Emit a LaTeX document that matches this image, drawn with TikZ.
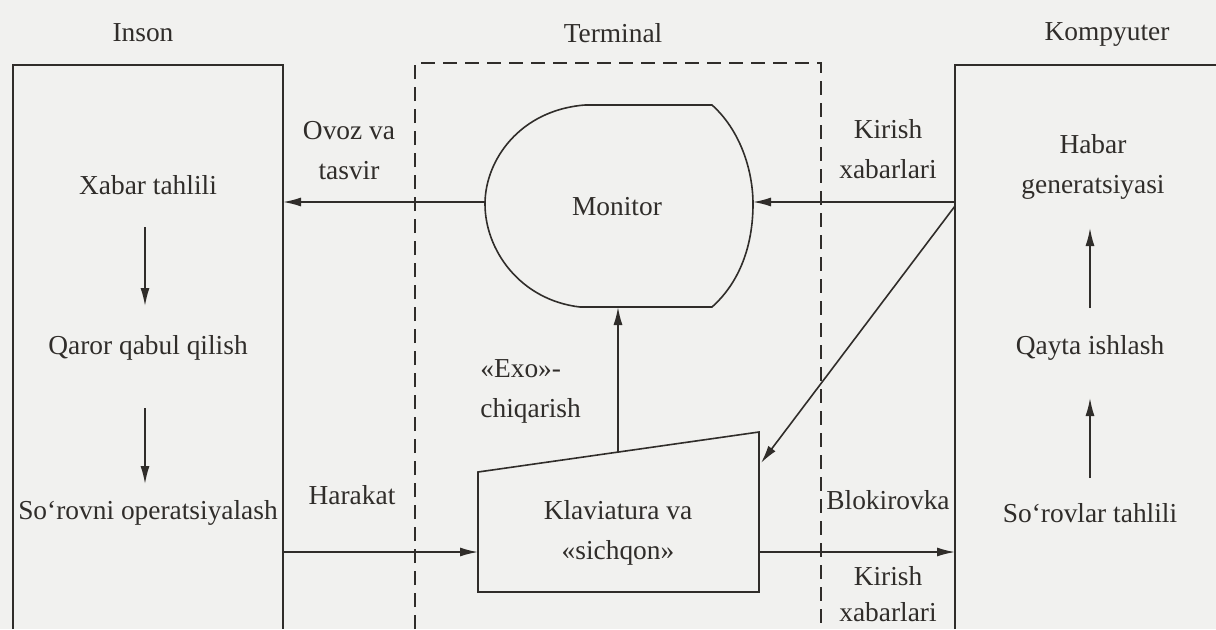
\documentclass[tikz,border=0pt]{standalone}
\usepackage{fontspec}
\setmainfont{Liberation Serif}
\usetikzlibrary{arrows.meta}
\definecolor{bg}{RGB}{241,241,239}
\definecolor{ink}{RGB}{48,45,42}
\begin{document}
\begin{tikzpicture}[x=0.5pt,y=-0.5pt,
  lbl/.style={font=\fontsize{13.7}{20}\selectfont, text=ink, align=center, inner sep=0pt},
  ln/.style={draw=ink, line width=0.8pt},
  dsh/.style={draw=ink, line width=0.7pt, dash pattern=on 7pt off 4pt},
  arr/.style={ln, -{Latex[length=9pt,width=4.5pt]}},
]
\fill[bg] (0,0) rectangle (1216,629);
\useasboundingbox (0,0) rectangle (1216,629);

% Inson box
\coordinate (insBL) at (13,629);
\coordinate (insTL) at (13,65);
\coordinate (insTR) at (283,65);
\coordinate (insBR) at (283,629);
\draw[ln] (insBL) -- (insTL) -- (insTR) -- (insBR);
\coordinate (insM) at (283,202);
\coordinate (insK) at (283,552);

% Terminal dashed region
\coordinate (terBL) at (415,629);
\coordinate (terTL) at (415,63);
\coordinate (terTR) at (821,63);
\coordinate (terBR) at (821,629);
\draw[dsh] (terBL) -- (terTL) -- (terTR) -- (terBR);

% Kompyuter box
\coordinate (kompBL) at (955,629);
\coordinate (kompTL) at (955,65);
\coordinate (kompTR) at (1216,65);
\draw[ln] (kompBL) -- (kompTL) -- (kompTR);
\coordinate (kompM) at (955,202);
\coordinate (kompD) at (955,206);
\coordinate (kompK) at (955,552);

% Monitor shape
\draw[ln] (585,105) -- (712,105)
  .. controls (740,130) and (753,170) .. (753,204)
  .. controls (753,245) and (740,282) .. (712,307)
  -- (580,307)
  .. controls (520,300) and (485,250) .. (485,204)
  .. controls (485,160) and (520,110) .. (585,105) -- cycle;
\coordinate (monL) at (485,202);
\coordinate (monR) at (753,202);
\coordinate (monB) at (618,307);
\node[lbl] (mon) at (617,207) {Monitor};

% Keyboard shape
\draw[ln] (478,472) -- (759,432) -- (759,592) -- (478,592) -- cycle;
\coordinate (kbL) at (478,552);
\coordinate (kbR) at (759,552);
\coordinate (kbT) at (618,452);
\coordinate (kbRT) at (761,463);
\node[lbl] (kbd) at (618,533) {Klaviatura va\\«sichqon»};

% Titles
\node[lbl] (tIns) at (143,33) {Inson};
\node[lbl] (tTerm) at (613,33) {Terminal};
\node[lbl] (tKomp) at (1107,34) {Kompyuter};

% Inson texts
\node[lbl] (xab) at (148,185) {Xabar tahlili};
\node[lbl] (qar) at (148,348) {Qaror qabul qilish};
\node[lbl] (sor) at (148,513) {So‘rovni operatsiyalash};
\coordinate (a1s) at (145,227);
\coordinate (a1e) at (145,306);
\coordinate (a2s) at (145,408);
\coordinate (a2e) at (145,484);
\draw[arr] (a1s) -- (a1e);
\draw[arr] (a2s) -- (a2e);

% Kompyuter texts
\node[lbl] (hab) at (1093,167) {Habar\\generatsiyasi};
\node[lbl] (qay) at (1090,348) {Qayta ishlash};
\node[lbl] (sorv) at (1090,513) {So‘rovlar tahlili};
\coordinate (b1s) at (1090,308);
\coordinate (b1e) at (1090,228);
\coordinate (b2s) at (1090,478);
\coordinate (b2e) at (1090,398);
\draw[arr] (b1s) -- (b1e);
\draw[arr] (b2s) -- (b2e);

% Connector labels
\node[lbl] (ovoz) at (349,151) {Ovoz va\\tasvir};
\node[lbl] (kir1) at (888,149) {Kirish\\xabarlari};
\node[lbl, align=left, anchor=west] (exo) at (480,391) {«Exo»-\\chiqarish};
\node[lbl] (har) at (352,495) {Harakat};
\node[lbl] (blok) at (888,500) {Blokirovka};
\node[lbl, font=\fontsize{13.7}{18}\selectfont] (kir2) at (888,594) {Kirish\\xabarlari};

% Connectors
\draw[arr] (kompM) -- (monR);
\draw[arr] (monL) -- (insM);
\draw[arr] (kbT) -- (monB);
\draw[arr] (kompD) -- (kbRT);
\draw[arr] (insK) -- (kbL);
\draw[arr] (kbR) -- (kompK);
\end{tikzpicture}
\end{document}
